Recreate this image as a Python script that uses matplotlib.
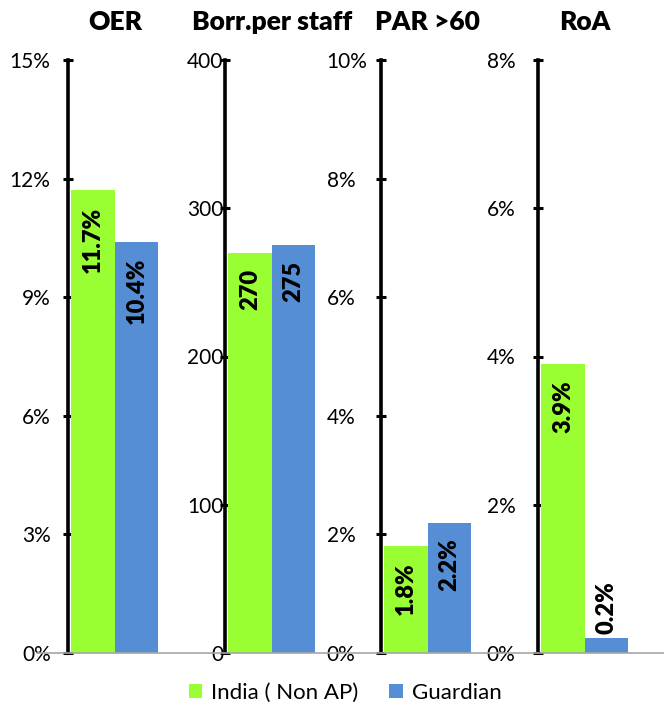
import matplotlib
matplotlib.use("Agg")
import matplotlib.pyplot as plt
from matplotlib.lines import Line2D
from matplotlib.patches import Patch

plt.rcParams['font.family'] = ['Lato', 'DejaVu Sans']

titles = ["OER", "Borr.per staff", "PAR >60", "RoA"]
series = ["India ( Non AP)", "Guardian"]
india = [11.7, 270, 1.8, 3.9]
guardian = [10.4, 275, 2.2, 0.2]
ymax = [15, 400, 10, 8]
ystep = [3, 100, 2, 2]
is_pct = [True, False, True, True]

colors = ["#99FF33", "#558ED5"]

W, H = 664, 702
fig = plt.figure(figsize=(W / 100, H / 100), dpi=100)

spine_x = [68, 225, 381, 538]
panel_w = 157
bar_px = 43.5
y_top, y_bot = 60, 653
# tick label alignment / anchor (pixels) per panel, as in the reference
lab_ha = ["right", "right", "left", "left"]
lab_x = [51, 224, 327, 487]

for i in range(4):
    ax = fig.add_axes([spine_x[i] / W, (H - y_bot) / H, panel_w / W, (y_bot - y_top) / H])
    ax.set_xlim(0, panel_w / bar_px)
    ax.set_ylim(0, ymax[i])
    vals = [india[i], guardian[i]]
    xs = [0.575, 1.575]
    ax.bar(xs, vals, width=1.0, color=colors, edgecolor="none", zorder=2)

    for sp in ["top", "right", "bottom"]:
        ax.spines[sp].set_visible(False)
    ax.spines["left"].set_linewidth(2.6)
    ax.spines["left"].set_zorder(3)
    ax.set_xticks([])
    ticks = list(range(0, ymax[i] + 1, ystep[i]))
    ax.set_yticks(ticks)
    if is_pct[i]:
        ax.set_yticklabels([f"{t}%" for t in ticks])
    else:
        ax.set_yticklabels([str(t) for t in ticks])
    tick_out = 4.5
    pad_px = spine_x[i] - tick_out - lab_x[i]
    ax.tick_params(axis="y", direction="inout", length=7, width=2.2,
                   labelsize=15, pad=pad_px * 0.72)
    for lab in ax.get_yticklabels():
        lab.set_horizontalalignment(lab_ha[i])
    ax.patch.set_visible(False)

    # title centred over the pair of bars
    ax.text(1.075, 1 + 38 / (y_bot - y_top), titles[i], transform=ax.get_xaxis_transform(),
            ha="center", va="center", fontsize=19, fontweight="heavy")

    for x, v in zip(xs, vals):
        txt = f"{v}%" if is_pct[i] else f"{v}"
        if v / ymax[i] > 0.15:
            ax.annotate(txt, (x, v), xytext=(0, -11.5), textcoords="offset points",
                        rotation=90, ha="center", va="top", fontsize=17, fontweight="heavy", zorder=4)
        else:
            ax.annotate(txt, (x, v), xytext=(0, 3), textcoords="offset points",
                        rotation=90, ha="center", va="bottom", fontsize=17, fontweight="heavy", zorder=4)

# grey category baseline across the whole chart
fig.add_artist(Line2D([37 / W, 1], [(H - y_bot) / H] * 2, color="#A6A6A6", lw=1.2, zorder=1))

handles = [Patch(facecolor=c, edgecolor="none") for c in colors]
fig.legend(handles, series, loc="center", bbox_to_anchor=(345 / W, 9 / H), ncol=2,
           frameon=False, fontsize=16, handlelength=0.6, handleheight=0.6,
           handletextpad=0.4, columnspacing=1.4, borderaxespad=0, borderpad=0)

fig.savefig("out.png", dpi=100)
